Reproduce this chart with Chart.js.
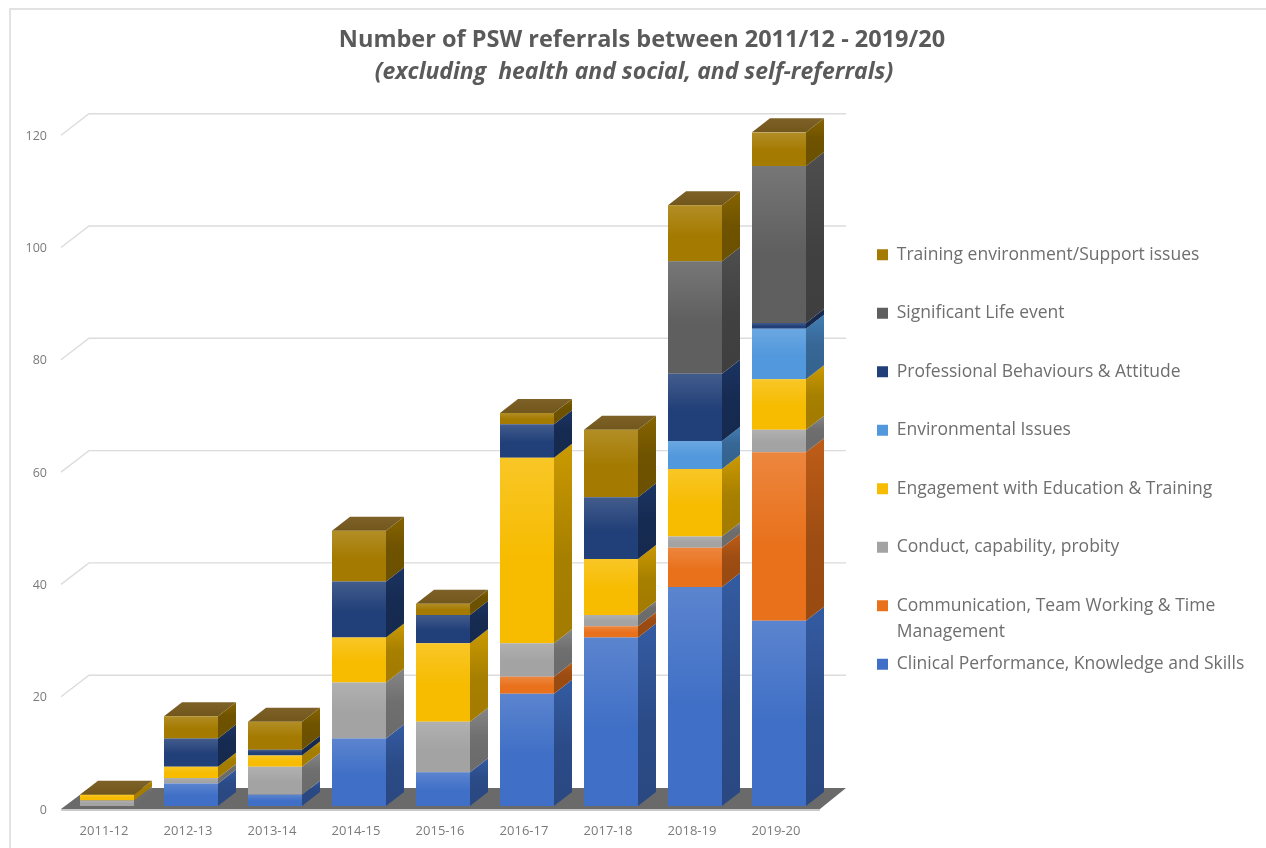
<!DOCTYPE html>
<html>
<head>
<meta charset="utf-8">
<style>
  html, body { margin: 0; padding: 0; background: #fff; overflow: hidden; }
  #frame { position: absolute; left: 9px; top: 8px; width: 1257px; height: 840px; border-top: 2px solid #e2e2e2; border-left: 2px solid #e2e2e2; box-sizing: border-box; }
  #wrap { position: absolute; left: 0; top: 0; width: 1266px; height: 848px; }
</style>
<script src="https://cdn.jsdelivr.net/npm/chart.js@4"></script>
</head>
<body>
<div id="frame"></div>
<div id="wrap"><canvas id="chart" width="1266" height="848"></canvas></div>
<script>
var years = ['2011-12','2012-13','2013-14','2014-15','2015-16','2016-17','2017-18','2018-19','2019-20'];

var clinical     = [0, 4, 2, 12, 6, 20, 30, 39, 33];
var communication = [0, 0, 0, 0, 0, 3, 2, 7, 30];
var conduct      = [1, 1, 5, 10, 9, 6, 2, 2, 4];
var engagement   = [1, 2, 2, 8, 14, 33, 10, 12, 9];
var environment  = [0, 0, 0, 0, 0, 0, 0, 5, 9];
var professional = [0, 5, 1, 10, 5, 6, 11, 12, 1];
var lifeEvent    = [0, 0, 0, 0, 0, 0, 0, 20, 28];
var training     = [0, 4, 5, 9, 2, 2, 12, 10, 6];

var seriesNames = ['Clinical Performance, Knowledge and Skills', 'Communication, Team Working & Time Management',
  'Conduct, capability, probity', 'Engagement with Education & Training', 'Environmental Issues',
  'Professional Behaviours & Attitude', 'Significant Life event', 'Training environment/Support issues'];
var seriesValues = [clinical, communication, conduct, engagement, environment, professional, lifeEvent, training];
var seriesColors = ['#3f6fc6', '#e9711c', '#a3a3a3', '#f7bc00', '#5198dc', '#213f78', '#5f5f5f', '#a47a00'];

var subtitleText = '(excluding  health and social, and self-referrals)';

var FONT = '"Open Sans", sans-serif';
var TEXT = '#6e6e6e';
var LEGEND_SIZE = 17.5, LEGEND_PAD = 41;
// depth of the 3d look
var DX = 18, DY = 14;

function shade(hex, f) {
  var n = parseInt(hex.slice(1), 16);
  var r = (n >> 16) & 255, g = (n >> 8) & 255, b = n & 255;
  return 'rgb(' + Math.round(r * f) + ',' + Math.round(g * f) + ',' + Math.round(b * f) + ')';
}

function poly(ctx, pts, fill) {
  ctx.beginPath();
  ctx.moveTo(pts[0][0], pts[0][1]);
  for (var i = 1; i < pts.length; i++) ctx.lineTo(pts[i][0], pts[i][1]);
  ctx.closePath();
  ctx.fillStyle = fill;
  ctx.fill();
}

var box3d = {
  id: 'box3d',
  beforeLayout: function (chart) {
    // keep the legend column as wide as the free space right of the plot
    var legend = chart.legend;
    if (!legend._fitWrapped) {
      var fit = legend.fit;
      legend.fit = function () { fit.call(this); this.width = 445; };
      legend._fitWrapped = true;
    }
  },
  afterLayout: function (chart) {
    chart.legend.left = 836;
    chart.legend.top = 205;
    // the second title line sits a little left of the first one
    chart.boxes.forEach(function (b) {
      if (b.options && b.options.text === subtitleText) b.left -= 16;
    });
  },
  beforeDatasetsDraw: function (chart) {
    var ctx = chart.ctx, a = chart.chartArea, y = chart.scales.y;
    ctx.save();

    // back gridlines with the slanted bit on the side wall
    ctx.strokeStyle = '#dcdcdc';
    ctx.lineWidth = 1.4;
    y.ticks.forEach(function (t) {
      if (t.value === 0) return;
      var py = y.getPixelForValue(t.value);
      ctx.beginPath();
      ctx.moveTo(a.left - 4, py + 3);
      ctx.lineTo(a.left + 24, py - 18.5);
      ctx.lineTo(a.right + 25, py - 18.5);
      ctx.stroke();
    });

    // floor
    poly(ctx, [[a.left - 4, a.bottom + 3], [a.right - 1, a.bottom + 3], [a.right + 25, a.bottom - 18], [a.left + 24, a.bottom - 18]], '#6a6a6a');
    poly(ctx, [[a.left - 4, a.bottom + 3], [a.right - 1, a.bottom + 3], [a.right - 1, a.bottom + 5], [a.left - 4, a.bottom + 5]], '#c9c9c9');

    // side faces
    chart.data.datasets.forEach(function (ds, di) {
      chart.getDatasetMeta(di).data.forEach(function (bar, i) {
        if (!ds.data[i]) return;
        var r = bar.x + bar.width / 2;
        var g = ctx.createLinearGradient(0, bar.y - DY, 0, bar.base - DY);
        g.addColorStop(0, shade(seriesColors[di], 0.82));
        g.addColorStop(0.6, shade(seriesColors[di], 0.68));
        g.addColorStop(1, shade(seriesColors[di], 0.66));
        poly(ctx, [[r, bar.y], [r + DX, bar.y - DY], [r + DX, bar.base - DY], [r, bar.base]], g);
      });
    });

    // top face, always brown like the top series
    var last = chart.getDatasetMeta(chart.data.datasets.length - 1);
    last.data.forEach(function (bar) {
      var l = bar.x - bar.width / 2, r = bar.x + bar.width / 2;
      var g = ctx.createLinearGradient(0, bar.y - DY, 0, bar.y);
      g.addColorStop(0, '#7d6128');
      g.addColorStop(1, '#72571c');
      poly(ctx, [[l, bar.y], [l + DX, bar.y - DY], [r + DX, bar.y - DY], [r, bar.y]], g);
    });
    ctx.restore();
  },
  afterDatasetsDraw: function (chart) {
    // soft highlight on the top part of each front face
    var ctx = chart.ctx;
    ctx.save();
    chart.data.datasets.forEach(function (ds, di) {
      chart.getDatasetMeta(di).data.forEach(function (bar, i) {
        if (!ds.data[i]) return;
        var g = ctx.createLinearGradient(0, bar.y, 0, bar.base);
        g.addColorStop(0, 'rgba(255,255,255,0.15)');
        g.addColorStop(0.55, 'rgba(255,255,255,0)');
        ctx.fillStyle = g;
        ctx.fillRect(bar.x - bar.width / 2, bar.y, bar.width, bar.base - bar.y);
      });
    });
    ctx.restore();
  },
  afterDraw: function (chart) {
    // wrapped end of the Communication legend label, hangs below its row without pushing the next one
    var ctx = chart.ctx, legend = chart.legend;
    ctx.save();
    ctx.font = LEGEND_SIZE + 'px ' + FONT;
    ctx.fillStyle = TEXT;
    ctx.textBaseline = 'middle';
    ctx.fillText('Management', legend.left + LEGEND_PAD + 11 + LEGEND_SIZE / 2,
      legend.top + LEGEND_PAD + 6 * (LEGEND_SIZE + LEGEND_PAD) + LEGEND_SIZE / 2 + 26);
    ctx.restore();
  }
};

new Chart(document.getElementById('chart').getContext('2d'), {
  type: 'bar',
  data: {
    labels: years,
    datasets: seriesNames.map(function (name, i) {
      return { label: name, data: seriesValues[i], backgroundColor: seriesColors[i], borderWidth: 0 };
    })
  },
  plugins: [box3d],
  options: {
    responsive: false,
    animation: false,
    barPercentage: 54 / 84,
    categoryPercentage: 1,
    layout: { autoPadding: false, padding: { left: 18, right: 0, top: 0, bottom: 0 } },
    scales: {
      x: {
        stacked: true,
        grid: { display: false },
        border: { display: false },
        afterFit: function (s) { s.height = 42; },
        ticks: { color: '#7a7a7a', font: { family: FONT, size: 13 }, padding: 9, labelOffset: -3, maxRotation: 0 }
      },
      y: {
        stacked: true,
        min: 0,
        max: 120,
        grid: { display: false },
        border: { display: false },
        afterFit: function (s) { s.width = 47; },
        ticks: { stepSize: 20, color: '#7a7a7a', font: { family: FONT, size: 12.5 }, padding: 10, labelOffset: 4 }
      }
    },
    plugins: {
      title: {
        display: true,
        text: 'Number of PSW referrals between 2011/12 - 2019/20',
        color: '#5a5a5a',
        font: { family: FONT, size: 23.5, weight: 'bold', lineHeight: 1.2 },
        padding: { top: 26, bottom: 4 }
      },
      subtitle: {
        display: true,
        text: subtitleText,
        color: '#5a5a5a',
        font: { family: FONT, size: 23, style: 'italic', weight: 'bold', lineHeight: 1.2 },
        padding: { top: 0, bottom: 46.4 }
      },
      legend: {
        position: 'right',
        align: 'start',
        fullSize: false,
        reverse: true,
        onClick: null,
        labels: {
          boxWidth: 11,
          boxHeight: 11,
          padding: LEGEND_PAD,
          color: TEXT,
          font: { family: FONT, size: LEGEND_SIZE },
          generateLabels: function (chart) {
            return Chart.defaults.plugins.legend.labels.generateLabels(chart).map(function (item) {
              if (item.text.indexOf('Communication') === 0) item.text = 'Communication, Team Working & Time';
              return item;
            });
          }
        }
      },
      tooltip: { enabled: false }
    }
  }
});
</script>
</body>
</html>
